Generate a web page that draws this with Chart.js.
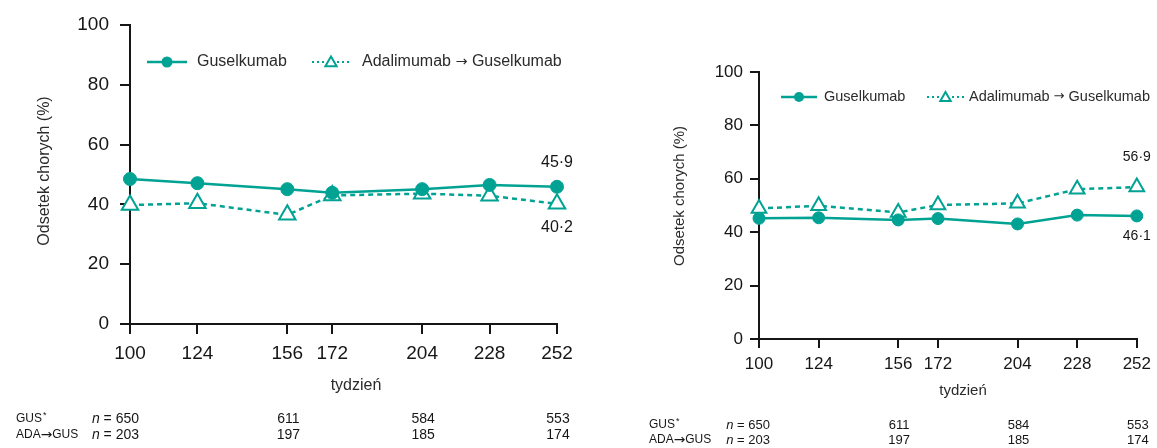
<!DOCTYPE html>
<html>
<head>
<meta charset="utf-8">
<script src="https://cdn.jsdelivr.net/npm/chart.js@4.4.1/dist/chart.umd.min.js"></script>
<style>
  html, body { margin: 0; padding: 0; background: #fff; }
  #wrap { position: relative; width: 1157px; height: 448px; overflow: hidden; background: #fff; }
  #wrap canvas { position: absolute; top: 0; }
</style>
</head>
<body>
<div id="wrap">
  <canvas id="left" width="600" height="448" style="left:0"></canvas>
  <canvas id="right" width="557" height="448" style="left:600px"></canvas>
</div>
<script>
// Study weeks on the horizontal axis
const weeks = [100, 124, 156, 172, 204, 228, 252];

// Share of patients (%) – left panel
const gusLeft = [48.5, 47.1, 45.1, 43.9, 45.1, 46.5, 45.9];
const adaLeft = [39.8, 40.4, 36.5, 43.0, 43.6, 42.9, 40.2];

// Share of patients (%) – right panel
const gusRight = [45.2, 45.4, 44.6, 45.1, 43.1, 46.4, 46.1];
const adaRight = [48.9, 49.9, 47.4, 50.2, 50.8, 56.1, 56.9];

// Vertical axis range and step
const yMin = 0;
const yMax = 100;
const yStep = 20;

// Patients at risk shown under each panel
const tableWeeks = [100, 156, 204, 252];
const nGus = [650, 611, 584, 553];
const nAda = [203, 197, 185, 174];

// Texts
const seriesNames = ['Guselkumab', 'Adalimumab \u2192 Guselkumab'];
const rowNames = ['GUS', 'ADA\u2192GUS'];
const xTitle = 'tydzie\u0144';
const yTitle = 'Odsetek chorych (%)';

const TEAL = '#00a293';
const INK = '#161616';
const GREY = '#2b2b2b';
const FAMILY = "'Liberation Sans', Arial, Helvetica, sans-serif";
const ARROW_FAMILY = "'DejaVu Sans', sans-serif";

function fmt(v) { return v.toFixed(1).replace('.', '\u00b7'); }

// Writes text left-aligned; arrows are set in a font whose arrow sits on the midline
function arrowText(ctx, text, x, y, size, arrowScale) {
  const parts = text.split('\u2192');
  let cx = x;
  ctx.textAlign = 'left';
  parts.forEach((part, i) => {
    ctx.font = size + 'px ' + FAMILY;
    ctx.fillText(part, cx, y);
    cx += ctx.measureText(part).width;
    if (i < parts.length - 1) {
      ctx.font = (size * arrowScale) + 'px ' + ARROW_FAMILY;
      ctx.fillText('\u2192', cx, y);
      cx += ctx.measureText('\u2192').width;
    }
  });
  return cx - x;
}

function drawTri(ctx, x, y, r, lw) {
  ctx.save();
  ctx.fillStyle = '#fff';
  ctx.strokeStyle = TEAL;
  Chart.helpers.drawPoint(ctx, { pointStyle: 'triangle', radius: r, borderWidth: lw, rotation: 0 }, x, y);
  ctx.restore();
}

// Legend, axis titles, end labels and the at-risk table
const panelText = {
  id: 'panelText',
  afterDraw(chart, args, o) {
    const ctx = chart.ctx;
    const xs = chart.scales.x;
    ctx.save();

    // legend
    const lg = o.legend;
    ctx.lineCap = 'butt';
    ctx.strokeStyle = TEAL; ctx.lineWidth = 2.5; ctx.setLineDash([]);
    ctx.beginPath(); ctx.moveTo(lg.a0, lg.y); ctx.lineTo(lg.a1, lg.y); ctx.stroke();
    ctx.fillStyle = TEAL;
    ctx.beginPath(); ctx.arc((lg.a0 + lg.a1) / 2, lg.y, lg.dot, 0, Math.PI * 2); ctx.fill();
    ctx.lineWidth = 2; ctx.setLineDash([2, 3]);
    ctx.beginPath(); ctx.moveTo(lg.b0, lg.y); ctx.lineTo(lg.b1, lg.y); ctx.stroke();
    ctx.setLineDash([]);
    drawTri(ctx, (lg.b0 + lg.b1) / 2, lg.y + 1, lg.tri, 1.8);
    ctx.fillStyle = GREY;
    ctx.textBaseline = 'middle';
    arrowText(ctx, seriesNames[0], lg.at, lg.y, lg.font, 0.9);
    arrowText(ctx, seriesNames[1], lg.bt, lg.y, lg.font, 0.9);

    // axis titles
    ctx.font = o.titleFont + 'px ' + FAMILY;
    ctx.textAlign = 'center'; ctx.textBaseline = 'middle';
    ctx.fillText(xTitle, o.xTitle.x, o.xTitle.y);
    ctx.save();
    ctx.translate(o.yTitle.x, o.yTitle.y);
    ctx.rotate(-Math.PI / 2);
    ctx.fillText(yTitle, 0, 0);
    ctx.restore();

    // values at the last week
    ctx.font = o.endFont + 'px ' + FAMILY;
    ctx.fillStyle = INK;
    chart.data.datasets.forEach((ds, i) => {
      const meta = chart.getDatasetMeta(i);
      const last = meta.data.length - 1;
      const pt = meta.data[last];
      const val = ds.data[last].y;
      ctx.fillText(fmt(val), pt.x, pt.y + o.endOffset[i]);
    });

    // at-risk table
    const t = o.table;
    const rows = [nGus, nAda];
    rows.forEach((vals, r) => {
      const y = t.y[r];
      ctx.fillStyle = INK;
      const w = arrowText(ctx, rowNames[r], t.labelX, y, t.labelFont, 1.15);
      if (r === 0) {
        ctx.font = Math.round(t.labelFont * 0.75) + 'px ' + FAMILY;
        ctx.textAlign = 'left';
        ctx.fillText('*', t.labelX + w + 1, y - 3);
      }
      vals.forEach((v, k) => {
        const px = xs.getPixelForValue(tableWeeks[k]);
        ctx.font = t.font + 'px ' + FAMILY;
        if (k === 0) {
          const rest = ' = ' + v;
          const wRest = ctx.measureText(rest).width;
          const right = px + t.firstShift;
          ctx.textAlign = 'right';
          ctx.fillText(rest, right, y);
          ctx.font = 'italic ' + t.font + 'px ' + FAMILY;
          ctx.fillText('n', right - wRest, y);
        } else {
          ctx.textAlign = 'center';
          ctx.fillText(String(v), px + 1, y);
        }
      });
    });
    ctx.restore();
  }
};

function panel(id, gus, ada, p) {
  const H = 448;
  const axisGrid = {
    display: true,
    drawOnChartArea: false,
    drawTicks: true,
    tickLength: p.tickLen,
    color: INK,
    lineWidth: 2
  };
  return new Chart(document.getElementById(id), {
    type: 'line',
    data: {
      datasets: [
        {
          label: seriesNames[0],
          data: weeks.map((w, i) => ({ x: w, y: gus[i] })),
          borderColor: TEAL,
          backgroundColor: TEAL,
          borderWidth: 2.5,
          tension: 0,
          pointStyle: 'circle',
          pointRadius: p.dot,
          pointBackgroundColor: TEAL,
          pointBorderColor: TEAL,
          pointBorderWidth: 1,
          clip: false
        },
        {
          label: seriesNames[1],
          data: weeks.map((w, i) => ({ x: w, y: ada[i] })),
          borderColor: TEAL,
          backgroundColor: '#fff',
          borderWidth: 2.5,
          borderDash: [5, 4],
          tension: 0,
          pointStyle: 'triangle',
          pointRadius: p.tri,
          pointBackgroundColor: '#fff',
          pointBorderColor: TEAL,
          pointBorderWidth: 2,
          clip: false
        }
      ]
    },
    options: {
      responsive: false,
      animation: false,
      events: [],
      layout: { padding: { left: 0, top: p.area.top, right: p.w - p.area.right, bottom: 0 } },
      scales: {
        x: {
          type: 'linear',
          min: weeks[0],
          max: weeks[weeks.length - 1],
          afterBuildTicks: s => { s.ticks = weeks.map(v => ({ value: v })); },
          afterFit: s => { s.height = H - p.area.bottom; },
          grid: axisGrid,
          border: { display: true, color: INK, width: 2 },
          ticks: {
            autoSkip: false,
            maxRotation: 0,
            padding: p.xPad,
            color: INK,
            font: { family: FAMILY, size: p.tickFont },
            callback: v => String(v)
          }
        },
        y: {
          type: 'linear',
          min: yMin,
          max: yMax,
          afterFit: s => { s.width = p.area.left; },
          grid: axisGrid,
          border: { display: true, color: INK, width: 2 },
          ticks: {
            stepSize: yStep,
            padding: p.yPad,
            color: INK,
            font: { family: FAMILY, size: p.tickFont }
          }
        }
      },
      plugins: {
        legend: { display: false },
        tooltip: { enabled: false },
        panelText: p.text
      }
    },
    plugins: [panelText]
  });
}

panel('left', gusLeft, adaLeft, {
  w: 600,
  area: { left: 130, right: 557, top: 25, bottom: 324 },
  tickLen: 10, xPad: 8, yPad: 11, tickFont: 19,
  dot: 6.5, tri: 9.5,
  text: {
    legend: { y: 62, a0: 147, a1: 187, at: 197, b0: 312, b1: 350, bt: 362, dot: 5.5, tri: 6.5, font: 16 },
    titleFont: 16,
    xTitle: { x: 356, y: 386 },
    yTitle: { x: 45, y: 171 },
    endFont: 16,
    endOffset: [-24, 24],
    table: { y: [419, 435], labelX: 16, labelFont: 12, font: 14, firstShift: 9 }
  }
});

panel('right', gusRight, adaRight, {
  w: 557,
  area: { left: 159, right: 541, top: 72, bottom: 339 },
  tickLen: 9, xPad: 6, yPad: 7, tickFont: 17,
  dot: 6, tri: 8.5,
  text: {
    legend: { y: 97, a0: 181, a1: 217, at: 224, b0: 327, b1: 364, bt: 369, dot: 5, tri: 6, font: 14.5 },
    titleFont: 15,
    xTitle: { x: 363, y: 391 },
    yTitle: { x: 80, y: 196 },
    endFont: 14,
    endOffset: [20, -30],
    table: { y: [425, 440], labelX: 49, labelFont: 12, font: 13, firstShift: 11 }
  }
});
</script>
</body>
</html>
